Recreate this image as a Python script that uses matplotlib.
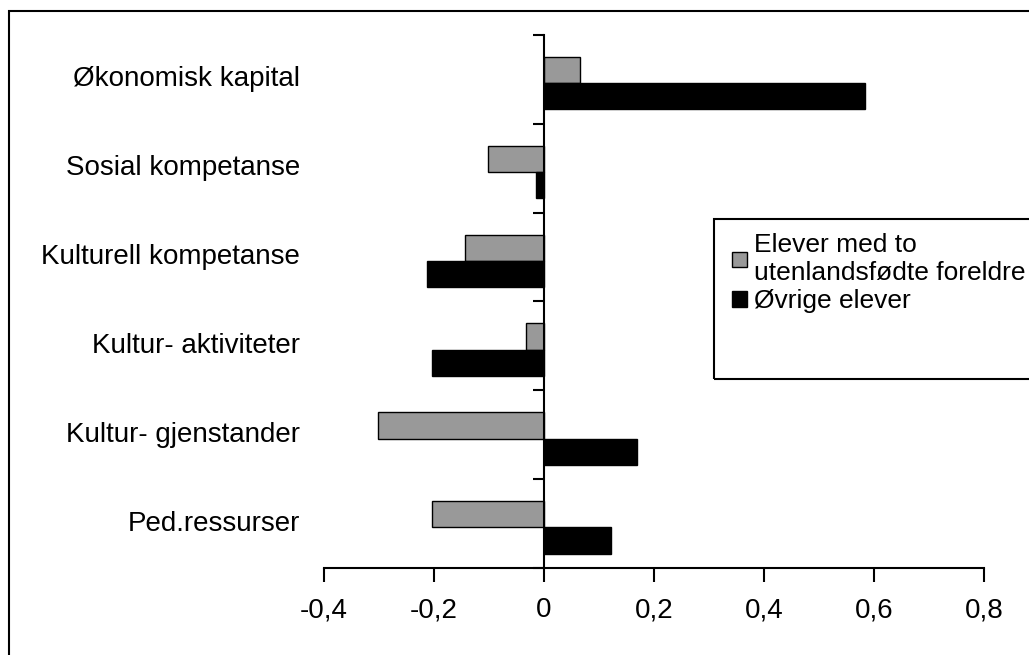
import matplotlib.pyplot as plt
from matplotlib.patches import Rectangle, Patch

plt.rcParams['font.family'] = ['Liberation Sans', 'DejaVu Sans']

categories = ['Økonomisk kapital', 'Sosial kompetanse', 'Kulturell kompetanse',
              'Kultur- aktiviteter', 'Kultur- gjenstander', 'Ped.ressurser']
utenlandsfodte = [0.066, -0.101, -0.144, -0.033, -0.301, -0.203]
ovrige = [0.584, -0.014, -0.213, -0.203, 0.169, 0.121]
series_names = ['Elever med to\nutenlandsfødte foreldre', 'Øvrige elever']
xticks = [-0.4, -0.2, 0, 0.2, 0.4, 0.6, 0.8]
xticklabels = ['-0,4', '-0,2', '0', '0,2', '0,4', '0,6', '0,8']

W, H = 1029, 655
fig = plt.figure(figsize=(W / 100, H / 100), dpi=100)
ax = fig.add_axes([324 / W, 1 - 568 / H, 660 / W, 533 / H])

pos = list(range(len(categories)))
bh = 0.295
ax.barh([p - 0.105 for p in pos], utenlandsfodte, height=bh,
        color='#999999', edgecolor='black', linewidth=1)
ax.barh([p + 0.19 for p in pos], ovrige, height=bh,
        color='black', edgecolor='black', linewidth=1)

ax.set_xlim(-0.4, 0.8)
ax.set_ylim(len(categories) - 0.5, -0.5)

# y axis sits at x = 0, ticks at the category borders
ax.spines['top'].set_visible(False)
ax.spines['right'].set_visible(False)
ax.spines['left'].set_position(('data', 0))
ax.spines['left'].set_linewidth(1.5)
ax.spines['bottom'].set_linewidth(1.5)
ax.set_yticks([p - 0.5 for p in pos] + [len(categories) - 0.5])
ax.set_yticklabels([])
ax.tick_params(axis='y', direction='out', length=8, width=1.5)

ax.set_xticks(xticks)
ax.set_xticklabels(xticklabels, fontsize=20)
ax.tick_params(axis='x', direction='out', length=10, width=1.5, pad=11)

for p, name in zip(pos, categories):
    ax.text(-24 / 660, p, name, transform=ax.get_yaxis_transform(),
            ha='right', va='center', fontsize=20)

# legend box (Excel style, runs past the right edge)
fig.patches.append(Rectangle((714 / W, 1 - 379 / H), 400 / W, 160 / H,
                             transform=fig.transFigure, fill=False,
                             edgecolor='black', linewidth=1.5))
handles = [Patch(facecolor='#999999', edgecolor='black', linewidth=1),
           Patch(facecolor='black', edgecolor='black', linewidth=1)]
fig.legend(handles, series_names, loc='upper left',
           bbox_to_anchor=(714 / W, 1 - 215 / H), frameon=False,
           fontsize=19, handlelength=0.55, handleheight=0.55, handletextpad=0.25,
           labelspacing=0.15, borderpad=0.2)

# outer chart border
fig.patches.append(Rectangle((9 / W, -0.1), 1.2, 1.1 - 11 / H,
                             transform=fig.transFigure, fill=False,
                             edgecolor='black', linewidth=1.5))

fig.savefig('out.png', dpi=100)
